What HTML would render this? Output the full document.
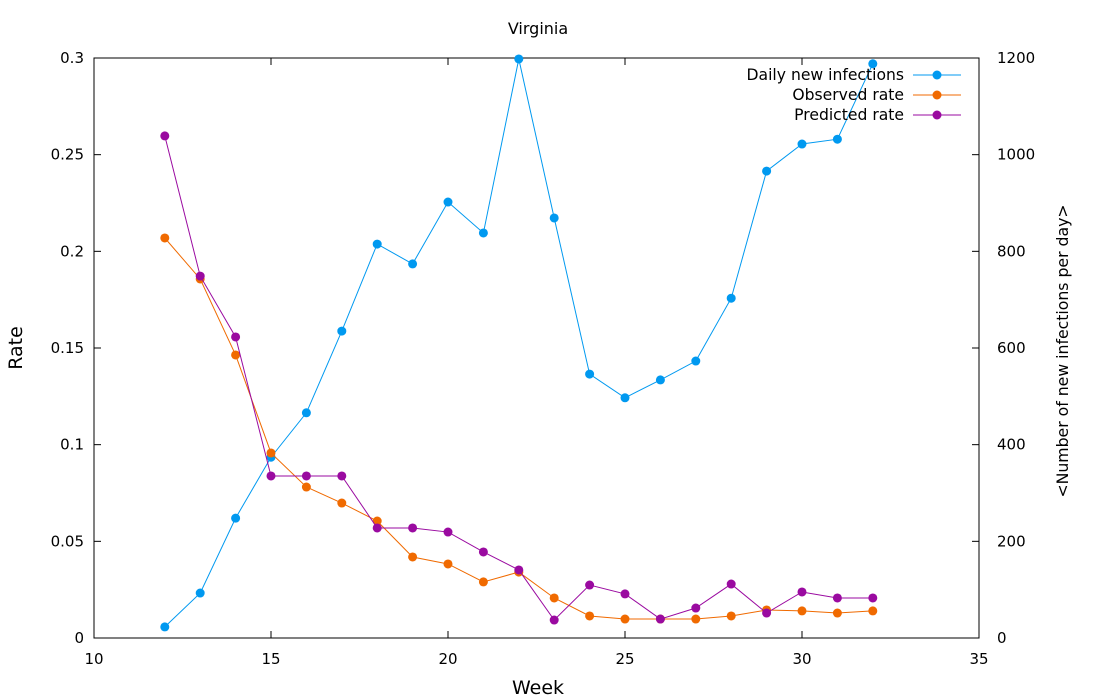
<!DOCTYPE html>
<html><head><meta charset="utf-8"><style>
body{margin:0;background:#fff;}
svg{display:block;font-family:"DejaVu Sans","Liberation Sans",sans-serif;}
</style></head><body>
<svg id="chart" width="1100" height="700">
<text x="538" y="34" font-size="16" text-anchor="middle">Virginia</text>
<rect x="94" y="58" width="885" height="580" fill="none" stroke="#000" stroke-width="1"/>
<text x="538" y="694" font-size="19" text-anchor="middle">Week</text>
<text x="22" y="348" font-size="19" text-anchor="middle" transform="rotate(-90 22 348)">Rate</text>
<text x="1068" y="351" font-size="15.7" text-anchor="middle" transform="rotate(-90 1068 351)">&lt;Number of new infections per day&gt;</text>
<g id="axes"></g><g id="series"></g><g id="legend"></g>
</svg>
<script>
const weeks=[12,13,14,15,16,17,18,19,20,21,22,23,24,25,26,27,28,29,30,31,32];
const dailyInfections=[23,93,248,374,466,635,815,774,902,838,1198,869,546,497,534,573,703,966,1022,1032,1188];
const observedRate=[0.2069,0.1857,0.1464,0.0957,0.0781,0.0698,0.0605,0.0419,0.0383,0.029,0.0341,0.0207,0.0114,0.0098,0.0098,0.0098,0.0114,0.0145,0.014,0.0129,0.014];
const predictedRate=[0.2597,0.1872,0.1557,0.0838,0.0838,0.0838,0.0569,0.0569,0.0548,0.0445,0.0352,0.0093,0.0274,0.0228,0.0098,0.0155,0.0279,0.0129,0.0238,0.0207,0.0207];
const xTicks=[10,15,20,25,30,35];
const yTicks=[0,0.05,0.1,0.15,0.2,0.25,0.3];
const y2Ticks=[0,200,400,600,800,1000,1200];
const NS="http://www.w3.org/2000/svg";
const X=v=>94+(v-10)/25*885, Y=v=>638-v/0.3*580, Y2=v=>638-v/1200*580;
function mk(tag,attrs,parent){const e=document.createElementNS(NS,tag);for(const k in attrs)e.setAttribute(k,attrs[k]);parent.appendChild(e);return e;}
const axes=document.getElementById('axes');
xTicks.forEach(t=>{const x=X(t);
 let l=mk('path',{d:`M${x} 638v-7M${x} 58v7`,stroke:'#000'},axes);
 
 
 let tx=mk('text',{x:x,y:664,'font-size':15,'text-anchor':'middle'},axes);tx.textContent=t;
 
 });
yTicks.forEach(t=>{const y=Y(t);
 let l=mk('path',{d:`M94 ${y}h7`,stroke:'#000'},axes);
 
 
 let tx=mk('text',{x:84,y:y+5,'font-size':15,'text-anchor':'end'},axes);tx.textContent=t;
 
 });
y2Ticks.forEach(t=>{const y=Y2(t);
 let l=mk('path',{d:`M979 ${y}h-7`,stroke:'#000'},axes);
 
 
 let tx=mk('text',{x:997,y:y+5,'font-size':15},axes);tx.textContent=t;
 
 });
const ser=document.getElementById('series');
function draw(vals,yf,color,name){
 const g=mk('g',{},ser);
 
 
 const p=mk('polyline',{points:vals.map((v,i)=>X(weeks[i])+','+yf(v)).join(' '),fill:'none',stroke:color,'stroke-width':1},g);
 
 
 vals.forEach((v,i)=>{const c=mk('circle',{cx:X(weeks[i]),cy:yf(v),r:4.5,fill:color},g);
  
  });
}
draw(dailyInfections,Y2,'#0099f0','daily-infections');
draw(observedRate,Y,'#f06a00','observed-rate');
draw(predictedRate,Y,'#9a0aa0','predicted-rate');
const leg=document.getElementById('legend');
[['Daily new infections','#0099f0'],['Observed rate','#f06a00'],['Predicted rate','#9a0aa0']].forEach((e,i)=>{
 const y=75+i*20;const g=mk('g',{},leg);
 
 
 const t=mk('text',{x:904,y:y+5,'font-size':15.6,'text-anchor':'end'},g);t.textContent=e[0];
 mk('path',{d:`M913 ${y}h48`,stroke:e[1]},g);
 mk('circle',{cx:937,cy:y,r:4.5,fill:e[1]},g);
});
</script>
</body></html>
